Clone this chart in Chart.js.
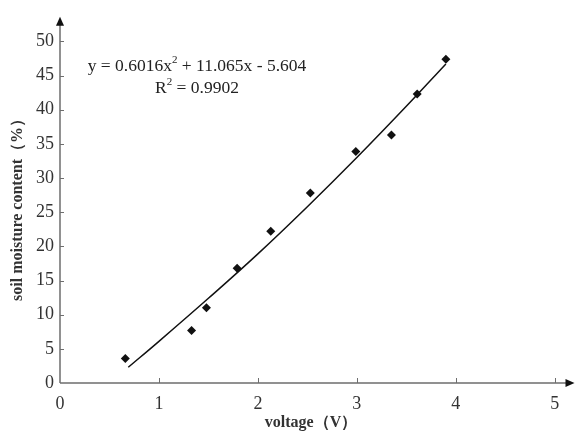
<!DOCTYPE html>
<html>
<head>
<meta charset="utf-8">
<script src="https://cdn.jsdelivr.net/npm/chart.js@4/dist/chart.umd.min.js"></script>
<style>
  html, body { margin: 0; padding: 0; background: #fff; }
  #wrap { width: 579px; height: 435px; }
</style>
</head>
<body>
<div id="wrap"><canvas id="moistureChart"></canvas></div>
<script>
// measured points: voltage (V) vs soil moisture content (%)
const voltage = [0.66, 1.33, 1.48, 1.79, 2.13, 2.53, 2.99, 3.35, 3.61, 3.90];
const moisture = [3.6, 7.7, 11.0, 16.8, 22.2, 27.8, 33.9, 36.3, 42.3, 47.4];

// fitted curve
const fitVoltage = [0.69, 1.0, 1.5, 2.0, 2.5, 3.0, 3.5, 3.9];
const fitMoisture = [2.3, 6.1, 12.4, 18.9, 25.8, 33.0, 40.5, 46.7];

const xTicks = [0, 1, 2, 3, 4, 5];
const yTicks = [0, 5, 10, 15, 20, 25, 30, 35, 40, 45, 50];

const SERIF = "'Liberation Serif', 'DejaVu Serif', serif";
const AXIS_COLOR = "#6e6e6e";

function toPoints(xs, ys) {
  return xs.map((x, i) => ({ x: x, y: ys[i] }));
}

// axes with arrows, tick marks, titles and the equation text
const decorPlugin = {
  id: "decor",
  afterDraw(chart) {
    const ctx = chart.ctx;
    const a = chart.chartArea;
    const xs = chart.scales.x;
    const ys = chart.scales.y;
    const x0 = xs.getPixelForValue(0);
    const y0 = ys.getPixelForValue(0);

    ctx.save();
    ctx.strokeStyle = AXIS_COLOR;
    ctx.lineWidth = 1.5;
    ctx.beginPath();
    ctx.moveTo(x0, y0);
    ctx.lineTo(a.right - 4, y0);
    ctx.moveTo(x0, y0);
    ctx.lineTo(x0, a.top + 4);
    ctx.stroke();

    // tick marks, both pointing into the plot
    ctx.lineWidth = 1;
    ctx.beginPath();
    xTicks.forEach(v => {
      if (v === 0) return;
      const px = Math.round(xs.getPixelForValue(v)) + 0.5;
      ctx.moveTo(px, y0);
      ctx.lineTo(px, y0 - 5);
    });
    yTicks.forEach(v => {
      if (v === 0) return;
      const py = Math.round(ys.getPixelForValue(v)) + 0.5;
      ctx.moveTo(x0, py);
      ctx.lineTo(x0 + 4, py);
    });
    ctx.stroke();

    // arrow heads
    ctx.fillStyle = "#111";
    ctx.beginPath();
    ctx.moveTo(a.right, y0);
    ctx.lineTo(a.right - 9, y0 - 4);
    ctx.lineTo(a.right - 9, y0 + 4);
    ctx.closePath();
    ctx.fill();
    ctx.beginPath();
    ctx.moveTo(x0, a.top);
    ctx.lineTo(x0 - 4, a.top + 9);
    ctx.lineTo(x0 + 4, a.top + 9);
    ctx.closePath();
    ctx.fill();

    // axis titles
    ctx.fillStyle = "#333";
    ctx.font = "bold 16px " + SERIF;
    ctx.textAlign = "center";
    ctx.textBaseline = "middle";
    ctx.fillText("voltage（V）", 311, 423);
    ctx.save();
    ctx.translate(18, 206);
    ctx.rotate(-Math.PI / 2);
    ctx.fillText("soil moisture content（%）", 0, 0);
    ctx.restore();

    // regression equation
    const mainFont = "17.5px " + SERIF;
    const supFont = "11px " + SERIF;
    ctx.fillStyle = "#222";
    ctx.textAlign = "left";
    ctx.textBaseline = "alphabetic";
    const eqA = "y = 0.6016x";
    const eqB = " + 11.065x - 5.604";
    ctx.font = mainFont;
    const wA = ctx.measureText(eqA).width;
    const wB = ctx.measureText(eqB).width;
    ctx.font = supFont;
    const wS = ctx.measureText("2").width;
    let sx = 197 - (wA + wS + wB) / 2;
    ctx.font = mainFont;
    ctx.fillText(eqA, sx, 71);
    ctx.font = supFont;
    ctx.fillText("2", sx + wA, 63);
    ctx.font = mainFont;
    ctx.fillText(eqB, sx + wA + wS, 71);

    const rA = "R";
    const rB = " = 0.9902";
    const wrA = ctx.measureText(rA).width;
    const wrB = ctx.measureText(rB).width;
    sx = 197 - (wrA + wS + wrB) / 2;
    ctx.fillText(rA, sx, 93);
    ctx.font = supFont;
    ctx.fillText("2", sx + wrA, 85);
    ctx.font = mainFont;
    ctx.fillText(rB, sx + wrA + wS, 93);
    ctx.restore();
  }
};

new Chart(document.getElementById("moistureChart"), {
  type: "scatter",
  data: {
    datasets: [
      {
        label: "measured",
        data: toPoints(voltage, moisture),
        pointStyle: "rectRot",
        pointRadius: 4.5,
        backgroundColor: "#111",
        borderColor: "#111",
        borderWidth: 0,
        showLine: false
      },
      {
        label: "fit",
        data: toPoints(fitVoltage, fitMoisture),
        showLine: true,
        pointRadius: 0,
        borderColor: "#111",
        borderWidth: 1.5,
        tension: 0.4,
        fill: false
      }
    ]
  },
  options: {
    responsive: true,
    maintainAspectRatio: false,
    animation: false,
    layout: { padding: { top: 8, right: 1, left: 0, bottom: 0 } },
    plugins: {
      legend: { display: false },
      tooltip: { enabled: false }
    },
    scales: {
      x: {
        type: "linear",
        min: 0,
        max: 5.2,
        grid: { display: false, drawTicks: false },
        border: { display: false },
        afterBuildTicks: s => { s.ticks = xTicks.map(v => ({ value: v })); },
        afterFit: s => { s.height = 52; },
        ticks: {
          padding: 10,
          color: "#333",
          font: { family: SERIF, size: 18 }
        }
      },
      y: {
        type: "linear",
        min: 0,
        max: 53.6,
        grid: { display: false, drawTicks: false },
        border: { display: false },
        afterBuildTicks: s => { s.ticks = yTicks.map(v => ({ value: v })); },
        afterFit: s => { s.width = 60; },
        ticks: {
          padding: 6,
          color: "#333",
          font: { family: SERIF, size: 18 }
        }
      }
    }
  },
  plugins: [decorPlugin]
});
</script>
</body>
</html>
